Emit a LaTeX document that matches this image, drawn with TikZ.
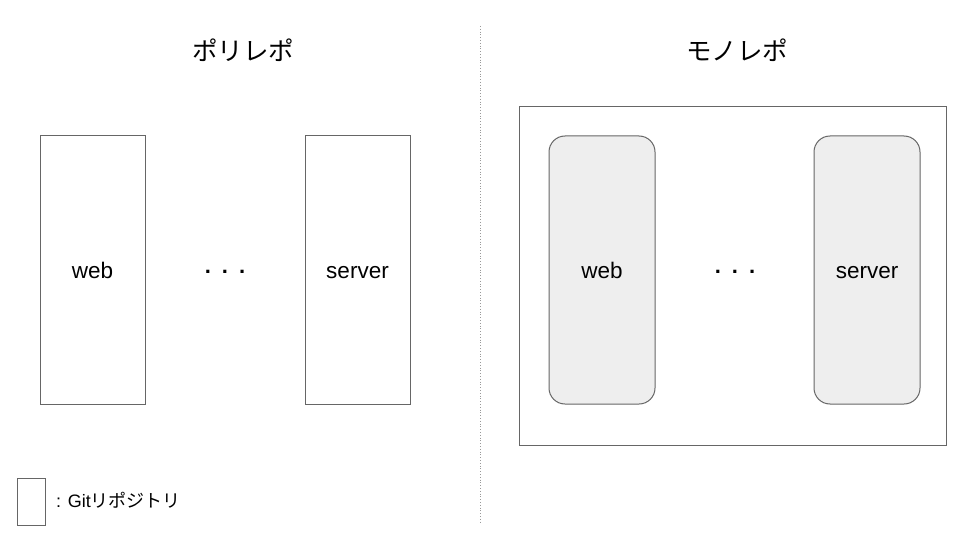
\documentclass[tikz,border=0pt]{standalone}
\usepackage{fontspec}
\setmainfont{Liberation Sans}
\newfontfamily\jp{Noto Sans CJK JP}
\definecolor{boxline}{HTML}{666666}
\definecolor{boxfill}{HTML}{EEEEEE}
\definecolor{sepline}{HTML}{999999}
\begin{document}
\begin{tikzpicture}[x=1pt,y=-1pt,
  repo/.style={draw=boxline, line width=1pt, fill=white},
  pkg/.style={draw=boxline, line width=1pt, fill=boxfill, rounded corners=16pt},
  lbl/.style={font=\fontsize{22.5}{24}\selectfont, text=black, anchor=base, inner sep=0pt},
  ttl/.style={font=\jp\fontsize{25.5}{28}\selectfont, text=black},
  dots/.style={font=\fontsize{22}{24}\selectfont\bfseries, text=black, anchor=base, inner sep=0pt}]
\useasboundingbox (0,0) rectangle (960,540);
% separator
\coordinate (septop) at (480,26);
\coordinate (sepbot) at (480,524);
\draw[sepline, dotted, line width=0.8pt] (septop) -- (sepbot);
% titles
\node[ttl] (tpoly) at (243,50) {ポリレポ};
\node[ttl] (tmono) at (737,50) {モノレポ};
% polyrepo
\node[repo, minimum width=105pt, minimum height=268pt, inner sep=0pt] (pweb) at (92.5,270) {};
\node[lbl] at ([yshift=-8pt]pweb.center) {web};
\node[repo, minimum width=105pt, minimum height=268pt, inner sep=0pt] (pserver) at (357.5,270) {};
\node[lbl] at ([yshift=-8pt]pserver.center) {server};
\node[dots] (pdots) at (225,273) {.\,\,\,.\,\,\,.};
% monorepo
\node[repo, minimum width=427pt, minimum height=338pt, inner sep=0pt] (mono) at (732.5,276) {};
\node[pkg, minimum width=106pt, minimum height=268pt, inner sep=0pt] (mweb) at (602,270) {};
\node[lbl] at ([yshift=-8pt]mweb.center) {web};
\node[pkg, minimum width=106pt, minimum height=268pt, inner sep=0pt] (mserver) at (867,270) {};
\node[lbl] at ([yshift=-8pt]mserver.center) {server};
\node[dots] (mdots) at (735,273) {.\,\,\,.\,\,\,.};
% legend
\node[repo, minimum width=28pt, minimum height=47pt, inner sep=0pt] (leg) at (31,501.5) {};
\node[anchor=west, inner sep=0pt, font=\fontsize{18}{20}\selectfont] (legtxt) at (56,500) {: Git{\jp リポジトリ}};
\end{tikzpicture}
\end{document}
